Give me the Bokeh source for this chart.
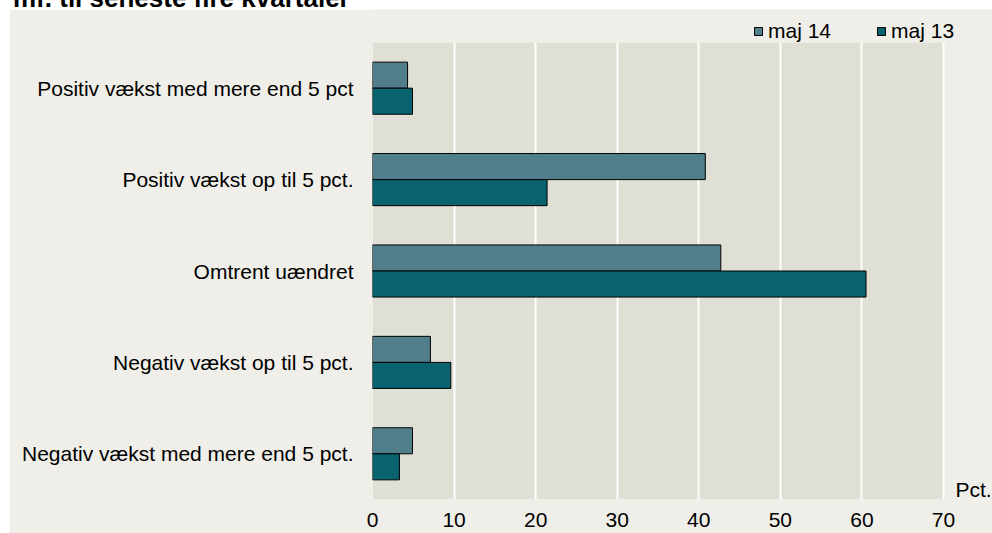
from bokeh.plotting import figure
from bokeh.models import (Range1d, Legend, LegendItem, FixedTicker, Label,
                          BoxAnnotation, Div, Spacer)
from bokeh.layouts import column, row
from bokeh.transform import dodge
from bokeh.embed import file_html
from bokeh.resources import INLINE

title_text = "mf. til seneste fire kvartaler"
categories = [
    "Positiv vækst med mere end 5 pct",
    "Positiv vækst op til 5 pct.",
    "Omtrent uændret",
    "Negativ vækst op til 5 pct.",
    "Negativ vækst med mere end 5 pct.",
]
maj14 = [4.3, 40.8, 42.7, 7.1, 4.9]
maj13 = [4.9, 21.4, 60.5, 9.6, 3.3]
series_names = ["maj 14", "maj 13"]
x_ticks = [0, 10, 20, 30, 40, 50, 60, 70]
x_max = 70
unit_label = "Pct."

FONT = "Liberation Sans"
FS = "21px"
C14 = "#507f8b"
C13 = "#08636f"
BG_OUT = "#efeee8"
BG_IN = "#e0dfd5"

n = len(categories)
ypos = [n - 0.5 - i for i in range(n)]  # first category at top

# frame extends over the top strip (legend) and right strip (unit label);
# the grey plot area is [0, x_max] x [0, n]
FRAME_W, FRAME_H = 620, 490
PLOT_W, PLOT_H = 571, 457
x_end = x_max * FRAME_W / PLOT_W
y_end = n * FRAME_H / PLOT_H

p = figure(
    width=983, height=524,
    y_range=Range1d(0, y_end),
    x_range=Range1d(0, x_end),
    output_backend="svg", toolbar_location=None,
    min_border_left=363, min_border_right=0,
    min_border_top=0, min_border_bottom=34,
)
p.background_fill_color = BG_OUT
p.border_fill_color = BG_OUT
p.outline_line_color = None

p.add_layout(BoxAnnotation(left=0, right=x_max, bottom=0, top=n, level="image",
                           fill_color=BG_IN, fill_alpha=1, line_color=None))

src = dict(y=ypos, v14=maj14, v13=maj13)
r14 = p.hbar(y=dodge("y", 0.1425), right="v14", left=0, height=0.285,
             source=src, fill_color=C14, line_color="black", line_width=1)
r13 = p.hbar(y=dodge("y", -0.1425), right="v13", left=0, height=0.285,
             source=src, fill_color=C13, line_color="black", line_width=1)

p.xaxis.ticker = FixedTicker(ticks=x_ticks)
p.xaxis.axis_line_color = None
p.xaxis.major_tick_line_color = None
p.xaxis.minor_tick_line_color = None
p.xaxis.major_tick_out = 0
p.xaxis.major_label_standoff = 13
p.xaxis.major_label_text_font = FONT
p.xaxis.major_label_text_font_size = FS
p.xaxis.major_label_text_color = "black"

p.yaxis.ticker = FixedTicker(ticks=ypos)
p.yaxis.major_label_overrides = {y: c for y, c in zip(ypos, categories)}
p.yaxis.axis_line_color = None
p.yaxis.major_tick_line_color = None
p.yaxis.minor_tick_line_color = None
p.yaxis.major_tick_out = 0
p.yaxis.major_label_standoff = 19
p.yaxis.major_label_text_font = FONT
p.yaxis.major_label_text_font_size = FS
p.yaxis.major_label_text_color = "black"

p.xgrid.grid_line_color = "white"
p.xgrid.grid_line_width = 2
p.ygrid.grid_line_color = None

# hide the grid lines above the plot area
p.add_layout(BoxAnnotation(bottom=n, level="underlay",
                           fill_color=BG_OUT, fill_alpha=1, line_color=None))

legend = Legend(
    items=[LegendItem(label=series_names[0], renderers=[r14]),
           LegendItem(label=series_names[1], renderers=[r13])],
    orientation="horizontal", location=(381, 456),
    glyph_width=10, glyph_height=10, label_standoff=5, spacing=45,
    padding=0, margin=0,
    label_text_font=FONT, label_text_font_size=FS, label_text_color="black",
    background_fill_alpha=0, border_line_alpha=0,
)
p.add_layout(legend)

p.add_layout(Label(x=x_max, y=0, x_offset=12, y_offset=10, text=unit_label,
                   text_baseline="middle", text_font=FONT,
                   text_font_size=FS, text_color="black"))

title_div = Div(
    text=('<div style="position:relative; top:-15px; left:13px; white-space:nowrap; '
          'font-family:\'Liberation Sans\'; font-weight:bold; font-size:26px; '
          'line-height:26px; color:black;">' + title_text + '</div>'),
    width=992, height=9, margin=0, styles={"overflow": "hidden"},
)

layout = column(title_div, row(Spacer(width=9, height=524), p))

open("out.html", "w").write(file_html(layout, INLINE))
